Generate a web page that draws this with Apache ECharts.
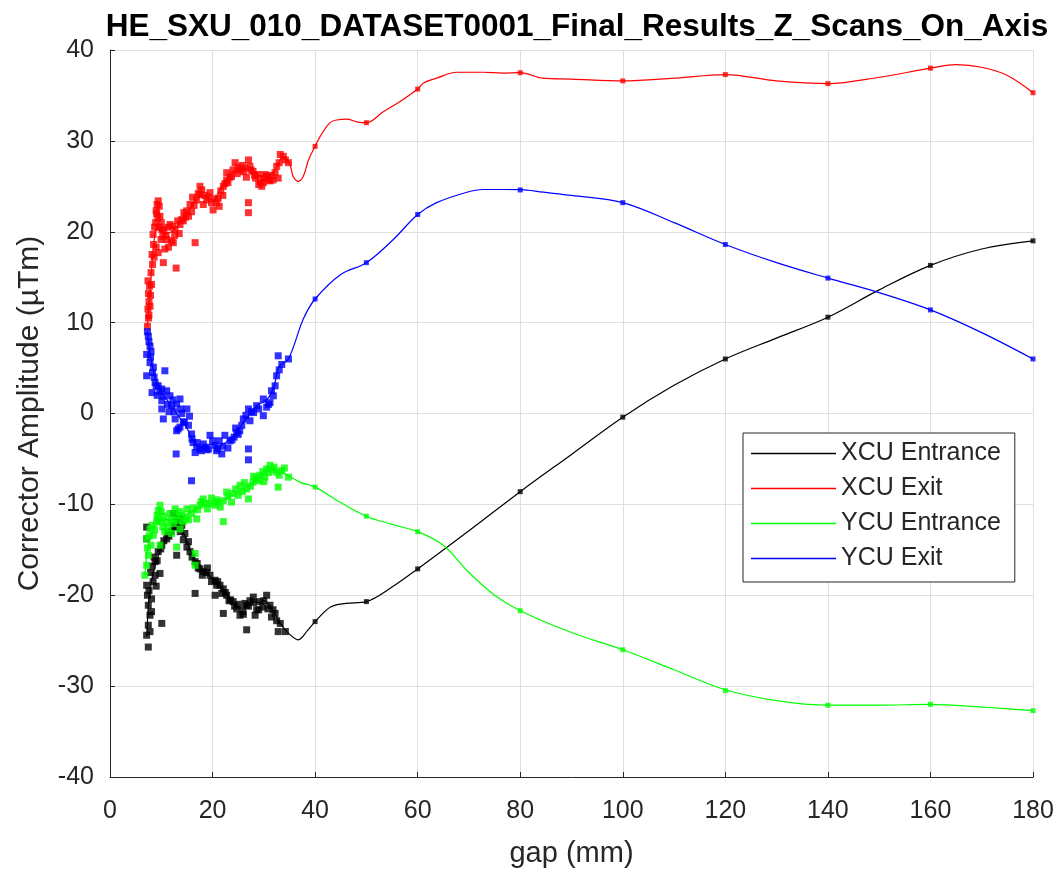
<!DOCTYPE html>
<html>
<head>
<meta charset="utf-8">
<script src="https://cdn.jsdelivr.net/npm/echarts@6/dist/echarts.min.js"></script>
<style>
html,body{margin:0;padding:0;background:#fff;}
#chart{width:1062px;height:873px;}
</style>
</head>
<body>
<div id="chart"></div>
<script>
// ---------- DATA ----------
const chartTitle = 'HE_SXU_010_DATASET0001_Final_Results_Z_Scans_On_Axis';
const xName = 'gap (mm)';
const yName = 'Corrector Amplitude (\u00b5Tm)';
const seriesNames = ['XCU Entrance', 'XCU Exit', 'YCU Entrance', 'YCU Exit'];
const seriesColors = ['#000000', '#ff0000', '#00ff00', '#0000ff'];

// stepped gaps (sparse measurement points)
const gapSteps = [40, 50, 60, 80, 100, 120, 140, 160, 180];
const xcuEntranceSteps = [-22.9, -20.7, -17.1, -8.6, -0.4, 6.0, 10.6, 16.3, 19.0];
const xcuExitSteps = [29.4, 32.0, 35.7, 37.5, 36.6, 37.3, 36.3, 38.0, 35.3];
const ycuEntranceSteps = [-8.1, -11.3, -13.0, -21.7, -26.0, -30.5, -32.1, -32.0, -32.7];
const ycuExitSteps = [12.6, 16.6, 21.9, 24.6, 23.2, 18.6, 14.9, 11.4, 6.0];

// dense scan points [gap, value]
const xcuEntranceScan = [[7.47,-25.7],[7.15,-24.4],[7.47,-23.3],[7.8,-22.2],[7.47,-21.1],[8.1,-20.4],[7.15,-18.9],[8.8,-17.8],[9.75,-17.6],[8.8,-16.3],[9.4,-15.2],[10.1,-14.5],[11.05,-13.8],[12.0,-13.0],[13.0,-12.5],[14.0,-12.3],[12.35,-11.0],[13.65,-11.6],[7.15,-12.5],[7.15,-13.8],[13.0,-15.6],[14.6,-13.2],[15.3,-14.1],[15.6,-15.2],[16.6,-16.3],[17.55,-17.1],[18.2,-17.4],[19.5,-17.8],[20.5,-18.35],[21.45,-18.9],[22.1,-19.3],[22.75,-20.0],[24.0,-20.7],[24.7,-21.5],[25.35,-22.2],[26.65,-21.1],[27.95,-20.2],[29.25,-20.7],[30.55,-20.0],[31.2,-21.1],[32.2,-22.0],[32.8,-24.0],[26.65,-23.8],[22.1,-22.0],[20.5,-20.0],[16.6,-19.8],[10.1,-23.1],[8.1,-21.8],[7.8,-24.0],[11.5,-13.5],[12.8,-12.0],[17.0,-16.5],[19.0,-17.0],[21.0,-18.5],[23.5,-20.5],[25.9,-21.8],[27.3,-20.6],[28.6,-21.6],[29.8,-21.3],[31.8,-21.6],[9.0,-19.0],[8.4,-18.5],
  [7.3,-20.0],[7.6,-19.5],[7.9,-17.5],[8.2,-16.8],[8.6,-15.8],[9.2,-16.2],[9.9,-14.9],[10.5,-14.0],[11.3,-13.2],[12.5,-12.4],[13.3,-12.0],[13.7,-13.0],[14.3,-13.9],[15.0,-14.7],[16.0,-15.8],[17.2,-17.0],[18.0,-17.8],[18.8,-17.5],[19.8,-18.5],[20.8,-18.9],[21.8,-19.8],[22.5,-19.7],[23.2,-20.6],[24.3,-21.2],[25.0,-21.0],[26.0,-22.1],[26.3,-20.9],[27.0,-21.2],[28.0,-20.8],[28.3,-22.2],[29.0,-21.6],[30.0,-20.6],[30.8,-21.5],[31.5,-22.4],[32.5,-22.8],[33.2,-23.1],[34.2,-24.0]];
const xcuExitScan = [[7.3,9.6],[7.5,10.5],[7.4,11.5],[7.6,12.3],[7.5,13.2],[7.7,14.0],[7.4,14.6],[7.9,13.0],[8.0,15.5],[8.3,16.4],[8.2,17.5],[8.5,18.6],[8.4,19.7],[8.7,20.5],[8.9,21.0],[9.0,22.3],[9.2,23.0],[9.4,23.4],[9.1,22.0],[9.6,20.5],[9.4,17.7],[9.75,21.7],[9.95,19.15],[10.1,20.25],[10.4,16.6],[10.7,18.1],[10.3,19.5],[11.05,19.15],[11.3,20.5],[11.7,20.8],[12.0,19.0],[12.35,18.8],[12.7,20.25],[12.9,16.0],[13.2,21.2],[13.65,20.8],[14.0,21.35],[14.3,21.2],[14.4,22.1],[14.95,22.3],[15.3,21.7],[15.6,23.0],[16.1,23.8],[16.6,18.8],[16.9,23.5],[17.2,24.2],[17.55,25.0],[17.55,24.1],[18.2,23.0],[18.85,23.5],[19.5,24.3],[19.8,23.2],[20.1,22.4],[20.8,23.2],[21.1,23.7],[21.6,24.5],[22.1,25.0],[22.4,25.3],[22.75,25.7],[22.75,26.5],[23.4,26.0],[23.7,26.1],[24.4,27.6],[24.8,26.4],[25.35,26.8],[25.8,27.3],[26.3,27.0],[26.6,26.0],[27.0,27.9],[27.0,23.2],[27.0,22.1],[27.5,26.8],[27.9,26.65],[28.4,25.9],[28.9,26.3],[29.3,25.5],[29.6,25.0],[29.9,25.4],[30.2,26.3],[30.55,26.1],[30.9,25.7],[31.2,25.6],[31.8,25.7],[32.5,27.2],[32.8,25.9],[33.2,28.5],[33.8,28.3],[34.8,27.6],
  [7.6,10.8],[7.8,11.8],[8.1,14.2],[8.6,17.2],[9.0,18.3],[9.3,21.5],[9.6,22.8],[10.0,21.0],[10.5,20.2],[10.9,19.6],[11.4,18.3],[12.2,20.6],[12.6,19.6],[13.5,19.8],[14.7,21.6],[15.9,22.2],[16.4,22.9],[17.9,24.6],[18.5,24.0],[19.2,23.8],[20.4,23.6],[21.3,22.8],[22.0,24.0],[23.0,25.4],[24.0,26.8],[25.0,27.1],[26.0,26.6],[27.3,27.2],[28.2,26.2],[29.0,25.2],[30.0,25.9],[31.5,26.2],[32.2,26.5],[33.0,27.6],[34.2,27.9]];
const ycuEntranceScan = [[6.8,-17.8],[7.15,-16.7],[7.15,-13.8],[7.5,-15.6],[7.8,-12.7],[8.45,-13.4],[9.1,-11.9],[9.4,-10.7],[9.75,-14.5],[9.75,-10.1],[9.4,-11.6],[10.7,-13.0],[11.05,-11.9],[12.35,-12.1],[13.0,-11.2],[13.65,-10.8],[13.65,-12.7],[14.3,-11.9],[13.0,-14.7],[15.9,-11.0],[16.9,-11.6],[16.6,-15.4],[16.6,-16.7],[17.55,-10.1],[18.2,-9.4],[19.5,-9.9],[20.5,-10.1],[22.1,-11.9],[22.75,-8.65],[22.1,-9.6],[23.7,-9.75],[24.0,-8.8],[25.35,-7.9],[27.0,-9.4],[26.65,-8.3],[27.9,-7.55],[29.25,-6.8],[30.55,-6.1],[31.2,-5.7],[32.5,-6.45],[32.8,-8.1],[33.5,-6.3],[34.8,-7.0],[8.0,-14.5],[10.3,-12.5],[11.7,-11.0],[15.0,-10.5],[19.0,-10.5],[21.0,-9.8],[25.0,-9.0],[28.5,-7.2],[30.0,-7.5],[31.8,-6.2],[10.0,-10.8],[12.0,-13.2],[14.8,-11.5],
  [7.3,-14.8],[7.6,-13.5],[8.2,-12.3],[8.7,-12.8],[9.2,-11.2],[10.0,-11.9],[10.5,-11.3],[11.3,-12.6],[12.0,-11.7],[12.7,-10.5],[13.3,-11.8],[14.0,-11.2],[15.3,-11.7],[16.2,-10.4],[17.1,-10.6],[17.8,-9.7],[18.7,-9.9],[19.8,-9.3],[20.8,-9.5],[21.5,-10.3],[23.0,-9.1],[24.5,-8.3],[25.8,-8.6],[26.2,-7.6],[27.4,-8.0],[28.0,-6.9],[29.0,-7.4],[29.8,-6.4],[30.2,-7.0],[31.0,-6.5],[32.0,-5.9],[33.0,-6.8],[34.0,-6.0]];
const ycuExitScan = [[7.3,9.0],[7.47,8.5],[7.8,7.4],[7.15,6.5],[7.8,5.6],[7.15,4.15],[8.45,5.1],[8.0,6.8],[8.8,3.4],[9.4,3.05],[8.2,2.3],[10.7,4.7],[10.1,2.7],[11.05,2.5],[10.1,1.4],[11.7,1.95],[13.65,1.6],[12.0,0.86],[13.0,1.04],[10.1,0.5],[15.0,0.5],[10.4,-0.6],[12.7,-0.6],[13.65,-1.5],[15.3,-1.3],[13.0,-1.9],[13.3,-1.7],[14.3,-0.9],[15.9,-2.25],[16.2,-3.2],[16.9,-3.7],[16.6,-4.3],[17.5,-3.9],[18.2,-3.35],[18.9,-4.0],[19.5,-2.4],[20.5,-3.5],[20.8,-4.1],[21.8,-4.45],[21.3,-3.0],[22.4,-2.4],[23.4,-3.0],[23.0,-3.8],[24.2,-2.6],[24.7,-2.1],[25.7,-1.3],[25.3,-1.9],[26.0,-0.6],[27.0,0.5],[27.3,-0.8],[28.0,0.1],[28.6,0.86],[29.9,1.6],[29.9,-0.24],[30.55,0.7],[31.2,1.2],[31.85,1.95],[32.2,3.05],[32.5,4.15],[32.8,6.35],[33.5,5.4],[34.8,6.0],[12.9,-4.45],[15.9,-7.4],[27.0,-3.9],[27.0,-5.1],[9.2,2.0],[11.5,0.2],[14.0,0.0],
  [7.6,7.9],[7.9,6.2],[8.3,4.5],[8.6,4.0],[9.0,3.0],[9.7,2.4],[10.4,1.9],[11.2,1.0],[12.3,1.5],[12.5,0.2],[13.8,0.5],[14.5,-1.0],[15.5,-0.3],[16.0,-2.8],[17.0,-3.2],[17.8,-4.1],[18.6,-3.7],[19.2,-3.9],[20.0,-3.0],[21.0,-3.9],[22.0,-3.6],[23.8,-2.9],[24.5,-1.6],[25.0,-2.3],[26.5,-0.2],[27.6,0.2],[29.0,0.5],[30.9,1.0],[31.5,2.5],[33.0,4.8]];

// fitted curve points [gap, value]
const xcuEntranceCurve = [[7.2,-24.5],[7.5,-21],[8,-18.8],[8.8,-16.8],[10,-14.8],[11,-13.8],[12,-13.1],[13,-12.6],[14,-12.9],[15,-14],[16,-15.6],[17,-16.6],[18,-17.2],[19,-17.7],[20,-18.3],[21,-18.8],[22,-19.4],[23,-20.1],[24,-20.8],[25,-21.4],[26,-21.4],[27,-20.9],[28,-20.7],[29,-20.8],[30,-20.6],[31,-21],[32,-21.9],[33.2,-23.1],[34.5,-24],[36.7,-24.9],[38.5,-23.9],[40,-22.9],[43,-21.3],[46,-20.9],[50,-20.7],[55,-19.1],[60,-17.1],[70,-12.9],[80,-8.6],[90,-4.5],[100,-0.4],[110,3.1],[120,6.0],[130,8.3],[140,10.6],[150,13.6],[160,16.3],[170,18.1],[180,19.0]];
const xcuExitCurve = [[7.3,9.6],[7.6,12],[8.0,15],[8.5,18.5],[9.2,20.5],[10.5,19.8],[12,20],[14,21.2],[16,22.8],[18,24],[20,23.5],[22,25.2],[24,26.6],[26,27],[28,26.5],[30,26],[32,26.6],[33.8,28.3],[35.1,27.4],[35.7,26.1],[36.7,25.55],[37.7,26.1],[38.7,27.9],[40,29.4],[41,30.5],[42.9,32.0],[44.2,32.3],[46.2,32.4],[48.1,32.1],[50,32.0],[53.3,33.2],[56.5,34.3],[60,35.7],[61.1,36.35],[63.7,36.9],[67.6,37.55],[72.8,37.55],[76.6,37.45],[80,37.5],[84.4,36.9],[90,36.8],[100,36.6],[110,36.9],[120,37.3],[130,36.6],[140,36.3],[150,37],[160,38],[165,38.4],[170,38.1],[175,37.2],[180,35.3]];
const ycuEntranceCurve = [[6.8,-17.8],[7.3,-15],[8,-13.3],[9,-12.3],[10,-11.8],[12,-11.6],[14,-11.3],[16,-10.8],[18,-10.1],[20,-9.9],[22,-9.6],[24,-9],[26,-8.3],[28,-7.5],[30,-6.6],[32,-6.2],[34,-6.6],[37,-7.55],[40,-8.1],[45,-9.8],[50,-11.3],[55,-12.2],[60,-13],[65,-14.5],[70,-17.5],[75,-20],[80,-21.7],[90,-24.1],[100,-26.0],[110,-28.2],[120,-30.4],[130,-31.6],[140,-32.1],[150,-32.1],[160,-32.0],[170,-32.3],[180,-32.7]];
const ycuExitCurve = [[7.3,9.0],[8,6],[9,3.5],[10,2.3],[11,1.6],[12,0.8],[13,0],[14,-0.8],[15,-1.6],[16,-2.8],[17,-3.6],[18,-3.7],[19,-3.5],[20,-3.4],[21,-3.6],[22,-3.4],[23,-3.0],[24,-2.5],[25,-1.8],[26,-1.0],[27,-0.3],[28,0.5],[29,1.0],[30,1.3],[31,1.8],[32,3],[33,5.2],[34.8,6.0],[37.7,10.4],[40,12.6],[45,15.3],[50,16.6],[55.25,19.15],[60,21.9],[63.7,23.2],[69.6,24.35],[72.8,24.65],[80,24.64],[84.5,24.35],[90,24.0],[100,23.2],[110,21],[120,18.6],[130,16.6],[140,14.9],[150,13.3],[160,11.4],[170,8.9],[180,6.0]];

const xTicks = {min: 0, max: 180, step: 20};
const yTicks = {min: -40, max: 40, step: 10};

// ---------- CHART ----------
const scans = [xcuEntranceScan, xcuExitScan, ycuEntranceScan, ycuExitScan];
const steps = [xcuEntranceSteps, xcuExitSteps, ycuEntranceSteps, ycuExitSteps];
const curves = [xcuEntranceCurve, xcuExitCurve, ycuEntranceCurve, ycuExitCurve];

const FONT = 'Liberation Sans, Arial, Helvetica, sans-serif';
const AXC = '#262626';
const series = [];
seriesNames.forEach((name, i) => {
  series.push({
    name: name,
    type: 'line',
    data: curves[i],
    smooth: 0.35,
    symbol: 'none',
    lineStyle: {color: seriesColors[i], width: 1.2},
    itemStyle: {color: seriesColors[i]},
    z: 3,
    silent: true
  });
});
seriesNames.forEach((name, i) => {
  series.push({
    name: name + ' scan',
    type: 'scatter',
    data: scans[i],
    symbol: 'rect',
    symbolSize: 7,
    itemStyle: {color: seriesColors[i]},
    z: 4,
    silent: true
  });
  series.push({
    name: name + ' steps',
    type: 'scatter',
    data: gapSteps.map((g, k) => [g, steps[i][k]]),
    symbol: 'rect',
    symbolSize: 5,
    itemStyle: {color: seriesColors[i]},
    z: 4,
    silent: true
  });
});

const chart = echarts.init(document.getElementById('chart'), null, {renderer: 'canvas'});
chart.setOption({
  animation: false,
  backgroundColor: '#ffffff',
  title: {
    text: chartTitle,
    left: 572, top: 6,
    textAlign: 'center',
    textStyle: {fontFamily: FONT, fontSize: 31.5, fontWeight: 'bold', color: '#000'}
  },
  grid: {left: 110, right: 29, top: 50, bottom: 94, containLabel: false},
  legend: {
    data: seriesNames,
    orient: 'vertical',
    left: 743, top: 433,
    padding: [3, 14, 6, 8],
    itemGap: 0,
    icon: 'rect',
    itemWidth: 85, itemHeight: 1.5,
    backgroundColor: '#fff',
    borderColor: AXC, borderWidth: 1,
    selectedMode: false,
    textStyle: {fontFamily: FONT, fontSize: 25, color: AXC, lineHeight: 35}
  },
  xAxis: {
    type: 'value',
    min: xTicks.min, max: xTicks.max, interval: xTicks.step,
    name: xName, nameLocation: 'middle', nameGap: 62,
    nameTextStyle: {fontFamily: FONT, fontSize: 29, color: AXC},
    axisLine: {show: true, onZero: false, lineStyle: {color: AXC, width: 1}},
    axisTick: {show: true, inside: true, length: 5, lineStyle: {color: AXC}},
    axisLabel: {fontFamily: FONT, fontSize: 25, color: AXC, margin: 22},
    splitLine: {show: true, lineStyle: {color: '#dfdfdf', width: 1}}
  },
  yAxis: {
    type: 'value',
    min: yTicks.min, max: yTicks.max, interval: yTicks.step,
    name: yName, nameLocation: 'middle', nameGap: 65,
    nameTextStyle: {fontFamily: FONT, fontSize: 30, color: AXC},
    axisLine: {show: true, onZero: false, lineStyle: {color: AXC, width: 1}},
    axisTick: {show: true, inside: true, length: 5, lineStyle: {color: AXC}},
    axisLabel: {fontFamily: FONT, fontSize: 25, color: AXC, margin: 16},
    splitLine: {show: true, lineStyle: {color: '#dfdfdf', width: 1}}
  },
  series: series
});
</script>
</body>
</html>
